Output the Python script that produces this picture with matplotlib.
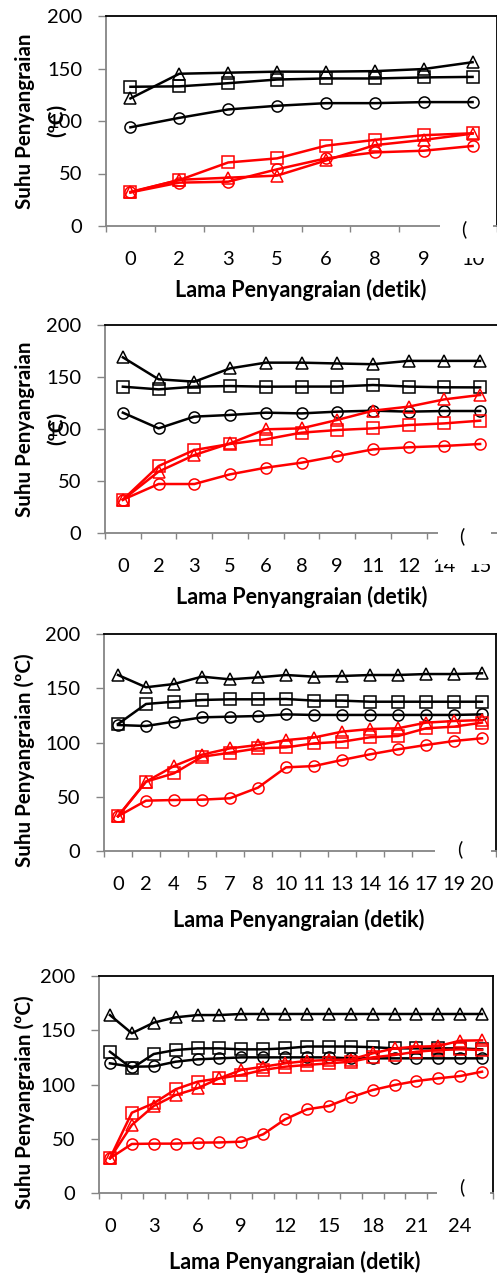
import numpy as np
import matplotlib
matplotlib.use("Agg")
import matplotlib.pyplot as plt
from matplotlib.patches import Rectangle

plt.rcParams["font.family"] = ["Lato", "DejaVu Sans"]

# ---- data ----
# panel 1
t1 = ["0", "2", "3", "5", "6", "8", "9", "10"]
p1_blk_tri = [121.5, 145, 146, 147, 147, 147.5, 149.5, 156]
p1_blk_sq = [132.6, 133, 136, 139.5, 140.5, 140.5, 141.5, 142]
p1_blk_ci = [94, 103, 111, 114.5, 117, 117, 118, 118]
p1_red_sq = [32.5, 43.8, 60.5, 64.4, 76.5, 82, 86.5, 88.3]
p1_red_tri = [32, 44, 46, 48, 62.4, 77, 82, 88]
p1_red_ci = [32, 41.3, 42.2, 54, 64.4, 70.1, 71.7, 76.2]

# panel 2
t2 = ["0", "2", "3", "5", "6", "8", "9", "11", "12", "14", "15"]
p2_blk_tri = [168.9, 147.8, 145.5, 158.3, 163.8, 163.8, 163, 162.3, 165.5, 165.5, 165.5]
p2_blk_sq = [140.7, 138.1, 140.7, 141.3, 140.7, 140.8, 140.8, 142.3, 140.8, 140.1, 140]
p2_blk_ci = [115.7, 100.6, 111.9, 113.5, 115.7, 115, 116.7, 117.6, 116.7, 117.3, 117.3]
p2_red_tri = [32, 59, 75, 86.2, 99.7, 100.6, 108.7, 117.6, 121.5, 128.5, 132.7]
p2_red_sq = [32, 64.4, 79.8, 85.6, 90.1, 96.5, 99, 100.6, 103.8, 105.4, 108]
p2_red_ci = [32, 47.1, 47.1, 56.4, 62.8, 67.6, 74, 80.4, 82.4, 83.7, 85.6]

# panel 3
t3 = ["0", "2", "4", "5", "7", "8", "10", "11", "13", "14", "16", "17", "19", "20"]
p3_blk_tri = [162.2, 150.9, 153.9, 160.7, 158.2, 160, 162.2, 160.7, 161.3, 162.2, 162.2, 163.1, 163.1, 163.8]
p3_blk_sq = [117, 135.5, 137.6, 139.2, 139.8, 139.8, 140.1, 138.6, 138.6, 137.6, 137.6, 137.6, 137.6, 137.6]
p3_blk_ci = [116.1, 115.2, 119.2, 123.2, 123.8, 124.4, 125.9, 125.4, 125.4, 125.4, 125.4, 125.4, 125.4, 125.9]
p3_red_tri = [32, 63.9, 78.3, 88.8, 94.6, 97.7, 102.2, 104.6, 110, 112.4, 113.1, 118.3, 119.8, 120.7]
p3_red_sq = [32, 63.9, 71.6, 86.9, 90.6, 94.6, 95.5, 99.2, 100.7, 104.8, 106, 113.1, 114.6, 118.3]
p3_red_ci = [32, 46.4, 47, 47.3, 48.6, 58.4, 77.1, 78.3, 83.9, 89.1, 93.7, 97.7, 101.4, 103.9]

# panel 4
t4 = ["0", "1.5", "3", "4.5", "6", "7.5", "9", "10.5", "12", "13.5",
      "15", "16.5", "18", "19.5", "21", "22.5", "24", "25.5"]
p4_blk_tri = [164, 147.2, 157, 161.9, 164, 164, 165, 165, 165, 165, 165, 165, 165, 165, 165, 165, 165, 165]
p4_blk_sq = [130.2, 114.9, 128.1, 131.8, 133.3, 133.3, 132.4, 132.4, 133.3, 135, 135, 135, 134.4, 133.3, 133.3, 133.3, 133.3, 132.4]
p4_blk_ci = [119.5, 116.4, 116.7, 121, 123.2, 124.1, 125, 125, 125, 125, 125, 124.1, 124.1, 124.1, 124.1, 124.1, 124.1, 124.1]
p4_red_tri = [32, 62.7, 80.2, 90.3, 96.5, 105.7, 113.4, 116.4, 119.5, 121.7, 122.6, 123, 128.7, 133.3, 134.8, 135.4, 140.4, 140.7]
p4_red_sq = [32, 74, 82.7, 95.6, 102.6, 105.7, 108.8, 113.4, 116.4, 118, 119.5, 121, 125, 127.2, 130.2, 131.8, 132.4, 131.8]
p4_red_ci = [32, 45.2, 45.5, 45.5, 46.4, 46.6, 47.3, 54.1, 67.9, 77.1, 80.2, 88.2, 94.9, 99.5, 103.2, 105.7, 107.8, 111.8]

W, H = 497, 1274
fig = plt.figure(figsize=(W / 100, H / 100), dpi=100)


def px_axes(left, right, top, bottom):
    return fig.add_axes([left / W, 1 - bottom / H, (right - left) / W, (bottom - top) / H])


def draw_panel(box, labels, series, label_step, xlab_xy, ylab_specs, cover, paren_xy):
    ax = px_axes(*box)
    n = len(labels)
    xc = np.arange(n) + 0.5
    for vals, color, marker in series:
        ax.plot(xc, vals, color=color, lw=1.8, marker=marker, ms=8,
                mfc="none", mec=color, mew=1.1, zorder=3)
    ax.set_xlim(0, n)
    ax.set_ylim(0, 200)
    ax.set_yticks([0, 50, 100, 150, 200])
    ax.tick_params(axis="y", direction="out", length=6, width=1, color="#858585",
                   labelsize=14.5, pad=11)
    ax.set_xticks(np.arange(n + 1))
    ax.set_xticklabels([])
    ax.tick_params(axis="x", which="major", direction="out", length=4.5, width=1, color="#858585")
    ax.set_xticks(xc, minor=True)
    ax.set_xticklabels([lab if i % label_step == 0 else "" for i, lab in enumerate(labels)],
                       minor=True)
    ax.tick_params(axis="x", which="minor", length=0, labelsize=14.5, pad=18)
    for s in ["left", "bottom"]:
        ax.spines[s].set_color("#858585")
        ax.spines[s].set_linewidth(1.3)
    for s in ["top", "right"]:
        ax.spines[s].set_color("black")
        ax.spines[s].set_linewidth(1.3)
    fig.text(xlab_xy[0] / W, 1 - xlab_xy[1] / H, "Lama Penyangraian (detik)",
             ha="center", va="center", fontsize=15.5, fontweight="bold")
    for txt, x, y in ylab_specs:
        fig.text(x / W, 1 - y / H, txt, rotation=90, ha="center", va="center",
                 fontsize=14.8, fontweight="bold")
    # white patch and stray "(" left over in the source image
    cl, cr, ct, cb = cover
    fig.patches.append(Rectangle((cl / W, 1 - cb / H), (cr - cl) / W, (cb - ct) / H,
                                 transform=fig.transFigure, facecolor="white",
                                 edgecolor="none", zorder=10))
    fig.text(paren_xy[0] / W, 1 - paren_xy[1] / H, "(", ha="center", va="center",
             fontsize=14.5, zorder=11)
    return ax


def series_of(bt, bs, bc, rt, rs, rc):
    return [(bt, "black", "^"), (bs, "black", "s"), (bc, "black", "o"),
            (rt, "red", "^"), (rs, "red", "s"), (rc, "red", "o")]


draw_panel((106, 497, 16, 226), t1,
           series_of(p1_blk_tri, p1_blk_sq, p1_blk_ci, p1_red_tri, p1_red_sq, p1_red_ci),
           1, (301, 290),
           [("Suhu Penyangraian", 25, 121), ("(ºC)", 57, 120)],
           (440, 493, 218, 258), (464, 229))

draw_panel((105, 498, 325, 533), t2,
           series_of(p2_blk_tri, p2_blk_sq, p2_blk_ci, p2_red_tri, p2_red_sq, p2_red_ci),
           1, (302, 597),
           [("Suhu Penyangraian", 25, 429), ("(ºC)", 57, 428)],
           (438, 491, 522, 564), (462, 536))

draw_panel((104, 496, 634, 851), t3,
           series_of(p3_blk_tri, p3_blk_sq, p3_blk_ci, p3_red_tri, p3_red_sq, p3_red_ci),
           1, (299, 920),
           [("Suhu Penyangraian (ºC)", 25, 760)],
           (435, 491, 838, 858), (460, 849))

draw_panel((99, 493, 976, 1193), t4,
           series_of(p4_blk_tri, p4_blk_sq, p4_blk_ci, p4_red_tri, p4_red_sq, p4_red_ci),
           2, (295, 1262),
           [("Suhu Penyangraian (ºC)", 25, 1102)],
           (437, 490, 1153, 1210), (462, 1187))

fig.savefig("out.png", dpi=100)
